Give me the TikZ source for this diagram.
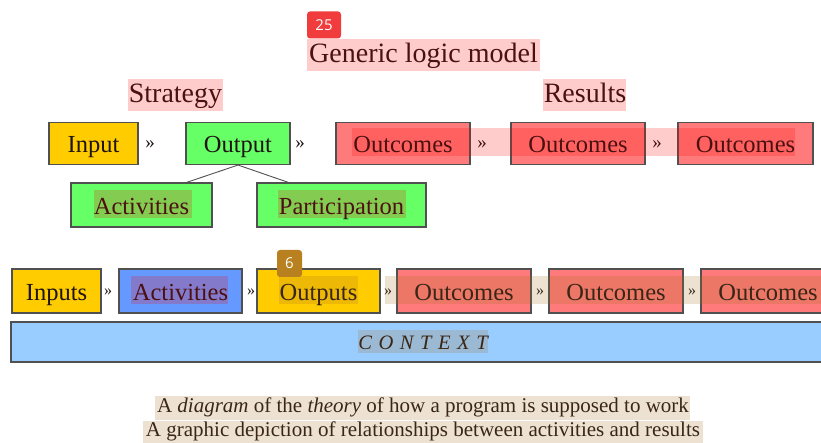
\documentclass[tikz,border=0pt]{standalone}
\usepackage{fontspec}
\setmainfont{Liberation Serif}
\newfontfamily\badgefont{Open Sans}
\usepackage{tikz}
\usetikzlibrary{positioning}
\definecolor{boxyellow}{RGB}{255,204,0}
\definecolor{boxgreen}{RGB}{102,255,102}
\definecolor{boxred}{RGB}{255,122,122}
\definecolor{boxblue}{RGB}{102,153,255}
\definecolor{ctxblue}{RGB}{153,204,255}
\definecolor{edgegray}{RGB}{80,80,80}
\definecolor{inkdark}{RGB}{30,20,20}
\definecolor{tanmark}{RGB}{165,110,30}
\definecolor{badgered}{RGB}{240,60,60}
\definecolor{badgetan}{RGB}{185,128,32}
\tikzset{%
  logic box/.style={
    draw=edgegray,
    line width=1.1pt,
    inner sep=0pt,
    minimum height=42,
    text height=19,
    text depth=0,
    text=inkdark,
    font=\fontsize{24.5}{26}\selectfont
  },
  chevron/.style={
    inner sep=0pt,
    text=inkdark,
    font=\fontsize{19}{20}\selectfont
  },
  heading/.style={
    text height=20,
    text depth=6,
    text=inkdark,
    font=\fontsize{28}{30}\selectfont
  },
  pinkband/.style={fill=red, fill opacity=0.2, draw=none},
  tanband/.style={fill=tanmark, fill opacity=0.2, draw=none},
  badge/.style={
    rounded corners=3pt,
    inner sep=0pt,
    text=white,
    font=\badgefont\fontsize{15}{16}\selectfont
  },
}

\begin{document}
\begin{tikzpicture}[x=1pt,y=-1pt]
    \useasboundingbox (0,0) rectangle (821,443);
    % headings
    \node[heading](title) at (423.5,56){Generic logic model};
    \node[heading](strategy) at (175.5,96){Strategy};
    \node[heading](results) at (585,96){Results};
    % top row
    \node[logic box,fill=boxyellow,minimum width=89](input) at (93.5,143.5){Input};
    \node[logic box,fill=boxgreen,minimum width=104](output) at (238,143.5){Output};
    \node[logic box,fill=boxred,minimum width=134](outA) at (403,143.5){Outcomes};
    \node[logic box,fill=boxred,minimum width=134](outB) at (578,143.5){Outcomes};
    \node[logic box,fill=boxred,minimum width=135](outC) at (745.5,143.5){Outcomes};
    \node[logic box,fill=boxgreen,minimum width=141,minimum height=44](acts) at (141.5,205){Activities};
    \node[logic box,fill=boxgreen,minimum width=169,minimum height=44](part) at (341.5,205){Participation};
    \draw[edgegray,line width=0.9pt] (output.south) -- ([xshift=45]acts.north);
    \draw[edgegray,line width=0.9pt] (output.south) -- ([xshift=-53]part.north);
    \foreach \name/\x in {ch1/150,ch2/300,ch3/482,ch4/657}
        \node[chevron](\name) at (\x,145){»};
    % bottom row
    \node[logic box,fill=boxyellow,minimum width=89,minimum height=44](inputs) at (56.5,291){Inputs};
    \node[logic box,fill=boxblue,minimum width=123,minimum height=44](activities) at (180.5,291){Activities};
    \node[logic box,fill=boxyellow,minimum width=123,minimum height=44](outputs) at (318.5,291){Outputs};
    \node[logic box,fill=boxred,minimum width=134,minimum height=44](oc1) at (464,291){Outcomes};
    \node[logic box,fill=boxred,minimum width=134,minimum height=44](oc2) at (616,291){Outcomes};
    \node[logic box,fill=boxred,minimum width=134,minimum height=44](oc3) at (768,291){Outcomes};
    \foreach \name/\x in {cb1/108,cb2/251,cb3/388,cb4/540,cb5/692}
        \node[chevron,font=\fontsize{16}{17}\selectfont](\name) at (\x,292){»};
    \node[logic box,fill=ctxblue,minimum width=824,minimum height=40,text height=15,
          font=\fontsize{20.5}{22}\selectfont\itshape\addfontfeature{LetterSpace=32}](context) at (423,342){CONTEXT};
    % caption
    \node[text=inkdark,font=\fontsize{21}{24.5}\selectfont,align=center](caption) at (423,419.5)
        {A \textit{diagram} of the \textit{theory} of how a program is supposed to work\\
         A graphic depiction of relationships between activities and results};
    % highlight marks
    \fill[pinkband] (307,39) rectangle (540,71);
    \fill[pinkband] (128,79) rectangle (223,111);
    \fill[pinkband] (543,79) rectangle (626,111);
    \fill[pinkband] (352,128) rectangle (795,156);
    \fill[pinkband] (94,190) rectangle (192,218);
    \fill[pinkband] (278,190) rectangle (406,218);
    \fill[pinkband] (131,276) rectangle (228,304);
    \fill[tanband] (279,276) rectangle (358,304);
    \fill[tanband] (385,276) rectangle (821,304);
    \fill[tanband] (358,330) rectangle (488,353);
    \fill[tanband] (155,396) rectangle (690,420);
    \fill[tanband] (143,421) rectangle (703,443);
    \node[badge,fill=badgered,minimum width=34,minimum height=27](tag25) at (324,25){25};
    \node[badge,fill=badgetan,minimum width=25,minimum height=27](tag6) at (289.5,263.5){6};
\end{tikzpicture}
\end{document}
